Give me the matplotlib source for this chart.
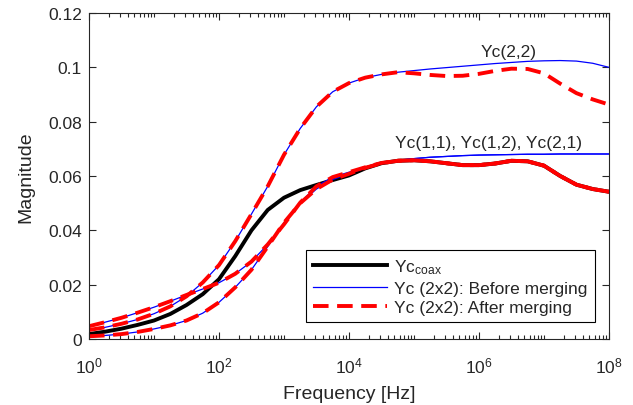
import numpy as np
import matplotlib
matplotlib.use('Agg')
import matplotlib.pyplot as plt
from matplotlib.ticker import LogLocator, NullFormatter, FixedLocator, FixedFormatter

plt.rcParams['font.family'] = ['Liberation Sans', 'DejaVu Sans']
plt.rcParams['mathtext.fontset'] = 'custom'
plt.rcParams['mathtext.rm'] = 'Liberation Sans'
plt.rcParams['mathtext.it'] = 'Liberation Sans:italic'

# exponents of the frequency grid (Hz = 10**exp), step 0.25 decade
freq_exp = [0, 0.25, 0.5, 0.75, 1, 1.25, 1.5, 1.75, 2, 2.25, 2.5, 2.75, 3, 3.25, 3.5, 3.75,
            4, 4.25, 4.5, 4.75, 5, 5.25, 5.5, 5.75, 6, 6.25, 6.5, 6.75, 7, 7.25, 7.5, 7.75, 8]

yc_coax = [0.0018, 0.0027, 0.0038, 0.0052, 0.0068, 0.0092, 0.0125, 0.0165, 0.0220, 0.0305,
           0.0400, 0.0475, 0.0520, 0.0548, 0.0567, 0.0585, 0.0602, 0.0628, 0.0647, 0.0656,
           0.0658, 0.0654, 0.0647, 0.0640, 0.0640, 0.0646, 0.0656, 0.0654, 0.0638, 0.0600,
           0.0568, 0.0552, 0.0542]

# before merging (blue)
yc11_before = [0.0047, 0.0062, 0.0078, 0.0097, 0.0117, 0.0139, 0.0162, 0.0184, 0.0207, 0.0240,
               0.0285, 0.0348, 0.0422, 0.0502, 0.0562, 0.0596, 0.0614, 0.0632, 0.0648, 0.0658,
               0.0664, 0.0669, 0.0672, 0.0675, 0.0677, 0.0678, 0.0679, 0.0680, 0.0680, 0.0681,
               0.0681, 0.0681, 0.0681]
yc12_before = [0.0010, 0.0013, 0.0018, 0.0026, 0.0037, 0.0050, 0.0068, 0.0095, 0.0135, 0.0190,
               0.0255, 0.0340, 0.0428, 0.0500, 0.0552, 0.0587, 0.0608, 0.0630, 0.0647, 0.0657,
               0.0664, 0.0669, 0.0672, 0.0675, 0.0677, 0.0678, 0.0679, 0.0680, 0.0680, 0.0681,
               0.0681, 0.0681, 0.0681]
yc22_before = [0.0033, 0.0043, 0.0056, 0.0072, 0.0093, 0.0120, 0.0157, 0.0208, 0.0272, 0.0360,
               0.0460, 0.0562, 0.0678, 0.0775, 0.0855, 0.0910, 0.0942, 0.0962, 0.0974, 0.0982,
               0.0988, 0.0994, 0.0999, 0.1004, 0.1009, 0.1014, 0.1018, 0.1022, 0.1024, 0.1025,
               0.1023, 0.1015, 0.1000]

# after merging (red dashed)
yc11_after = [0.0047, 0.0062, 0.0078, 0.0097, 0.0117, 0.0139, 0.0162, 0.0184, 0.0207, 0.0240,
              0.0285, 0.0348, 0.0422, 0.0502, 0.0562, 0.0596, 0.0614, 0.0632, 0.0648, 0.0656,
              0.0658, 0.0654, 0.0647, 0.0640, 0.0640, 0.0646, 0.0656, 0.0654, 0.0638, 0.0600,
              0.0568, 0.0552, 0.0542]
yc12_after = [0.0010, 0.0013, 0.0018, 0.0026, 0.0037, 0.0050, 0.0068, 0.0095, 0.0135, 0.0190,
              0.0255, 0.0340, 0.0428, 0.0500, 0.0552, 0.0587, 0.0608, 0.0630, 0.0647, 0.0656,
              0.0658, 0.0654, 0.0647, 0.0640, 0.0640, 0.0646, 0.0656, 0.0654, 0.0638, 0.0600,
              0.0568, 0.0552, 0.0542]
yc22_after = [0.0033, 0.0043, 0.0056, 0.0072, 0.0093, 0.0120, 0.0157, 0.0208, 0.0272, 0.0360,
              0.0460, 0.0562, 0.0678, 0.0775, 0.0855, 0.0910, 0.0942, 0.0962, 0.0974, 0.0982,
              0.0978, 0.0972, 0.0968, 0.0969, 0.0976, 0.0987, 0.0995, 0.0994, 0.0978, 0.0940,
              0.0905, 0.0882, 0.0863]

xtick_vals = [1, 1e2, 1e4, 1e6, 1e8]
ytick_vals = [0, 0.02, 0.04, 0.06, 0.08, 0.1, 0.12]
ytick_labels = ['0', '0.02', '0.04', '0.06', '0.08', '0.1', '0.12']
legend_labels = [r'Yc$_{\rm coax}$', 'Yc (2x2): Before merging', 'Yc (2x2): After merging']

freq = 10.0 ** np.array(freq_exp)
txt_col = '#262626'

fig = plt.figure(figsize=(6.33, 4.06), dpi=100)
ax = fig.add_axes([0.1406, 0.1626, 0.8214, 0.8029])

h_coax, = ax.plot(freq, yc_coax, color='black', lw=2.8)
h_blue = None
for ys in [yc11_before, yc12_before, yc22_before]:
    h_blue, = ax.plot(freq, ys, color='blue', lw=0.9)
h_red = None
for ys in [yc11_after, yc12_after, yc22_after]:
    h_red, = ax.plot(freq, ys, color='red', lw=2.8, linestyle=(0, (4, 2.2)))

ax.text(10 ** 6.02, 0.106, 'Yc(2,2)', fontsize=12.5, color=txt_col, va='center', ha='left')
ax.text(10 ** 4.71, 0.0725, 'Yc(1,1), Yc(1,2), Yc(2,1)', fontsize=12.5, color=txt_col,
        va='center', ha='left')

ax.set_xscale('log')
ax.set_xlim(1, 1e8)
ax.set_ylim(0, 0.12)
ax.xaxis.set_major_locator(FixedLocator(xtick_vals))
ax.xaxis.set_minor_locator(LogLocator(base=10, subs=np.arange(1, 10), numticks=50))
ax.xaxis.set_minor_formatter(NullFormatter())
ax.yaxis.set_major_locator(FixedLocator(ytick_vals))
ax.yaxis.set_major_formatter(FixedFormatter(ytick_labels))

ax.tick_params(which='both', direction='in', top=True, right=True, colors=txt_col,
               labelsize=12.5, width=0.8)
ax.tick_params(which='major', length=5)
ax.tick_params(which='minor', length=3)
ax.tick_params(axis='x', which='major', pad=12)
ax.tick_params(axis='y', which='major', pad=5)
for sp in ax.spines.values():
    sp.set_color(txt_col)
    sp.set_linewidth(0.8)

ax.set_xlabel('Frequency [Hz]', fontsize=14, color=txt_col, labelpad=7)
ax.set_ylabel('Magnitude', fontsize=14, color=txt_col, labelpad=10)

leg = ax.legend([h_coax, h_blue, h_red], legend_labels, loc='lower left',
                bbox_to_anchor=(0.417, 0.052), borderaxespad=0, fontsize=12.5,
                handlelength=4.3, handletextpad=0.4, labelspacing=0.25,
                borderpad=0.4, fancybox=False, framealpha=1)
leg.get_frame().set_edgecolor('black')
leg.get_frame().set_linewidth(0.8)
for t in leg.get_texts():
    t.set_color(txt_col)

fig.savefig('out.png', dpi=100)
